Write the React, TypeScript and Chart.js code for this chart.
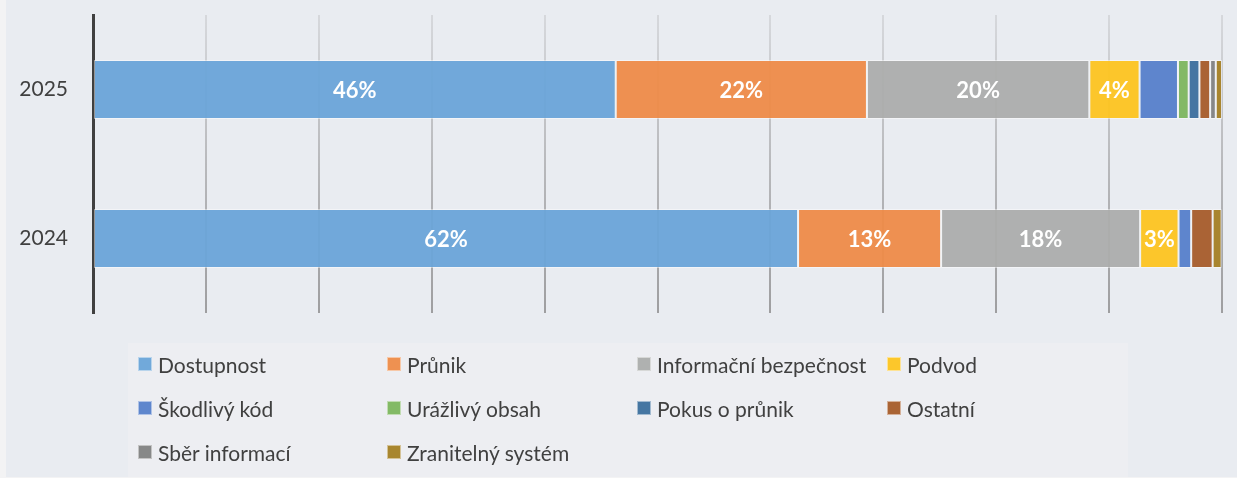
import React, { useEffect, useRef } from "react";
import { Chart, registerables } from "chart.js";

Chart.register(...registerables);

const years = ["2025", "2024"];
const seriesNames = [
  "Dostupnost",
  "Průnik",
  "Informační bezpečnost",
  "Podvod",
  "Škodlivý kód",
  "Urážlivý obsah",
  "Pokus o průnik",
  "Ostatní",
  "Sběr informací",
  "Zranitelný systém",
];
const seriesColors = [
  "rgba(106,164,216,0.95)",
  "rgba(238,139,72,0.95)",
  "rgba(172,173,172,0.95)",
  "rgba(253,196,32,0.95)",
  "rgba(86,127,202,0.95)",
  "rgba(125,182,94,0.95)",
  "rgba(60,111,157,0.95)",
  "rgba(166,92,42,0.95)",
  "rgba(130,130,130,0.95)",
  "rgba(164,128,36,0.95)",
];
// values in % per series: [2025, 2024]
const dostupnost = [46.3, 62.45];
const prunik = [22.25, 12.67];
const infoBezpecnost = [19.7, 17.63];
const podvod = [4.45, 3.4];
const skodlivyKod = [3.4, 1.12];
const urazlivyObsah = [0.95, null];
const pokusOPrunik = [0.95, null];
const ostatni = [0.95, 1.9];
const sberInformaci = [0.5, null];
const zranitelnySystem = [0.55, 0.8];
const seriesValues = [
  dostupnost,
  prunik,
  infoBezpecnost,
  podvod,
  skodlivyKod,
  urazlivyObsah,
  pokusOPrunik,
  ostatni,
  sberInformaci,
  zranitelnySystem,
];
const labeledSeries = 4;
const xTicks = [0, 10, 20, 30, 40, 50, 60, 70, 80, 90, 100];

const FONT = "Lato, 'Noto Sans', sans-serif";

const labelPlugin = {
  id: "segLabels",
  afterDatasetsDraw(chart: any) {
    const ctx = chart.ctx;
    ctx.save();
    ctx.fillStyle = "#ffffff";
    ctx.font = `bold 22px ${FONT}`;
    ctx.textAlign = "center";
    ctx.textBaseline = "middle";
    for (let d = 0; d < labeledSeries; d++) {
      const meta = chart.getDatasetMeta(d);
      meta.data.forEach((el: any, i: number) => {
        const v = chart.data.datasets[d].data[i];
        if (v == null) return;
        const p = el.getCenterPoint();
        ctx.fillText(`${Math.round(v)}%`, p.x, p.y + 1);
      });
    }
    ctx.restore();
  },
};

export default function App() {
  const ref = useRef<HTMLCanvasElement>(null);
  useEffect(() => {
    document.body.style.margin = "0";
    const chart = new Chart(ref.current!, {
      type: "bar",
      data: {
        labels: years,
        datasets: seriesNames.map((name, i) => ({
          label: name,
          data: seriesValues[i] as any,
          backgroundColor: seriesColors[i],
          borderColor: "rgba(255,255,255,0.45)",
          borderWidth: 1,
          borderSkipped: false,
          categoryPercentage: 1,
          barPercentage: 0.396,
        })),
      },
      options: {
        indexAxis: "y",
        animation: false,
        responsive: false,
        maintainAspectRatio: false,
        layout: { padding: { left: 0, right: 15, top: 15, bottom: 163 } },
        plugins: { legend: { display: false }, tooltip: { enabled: false } },
        scales: {
          x: {
            stacked: true,
            min: 0,
            max: 100,
            afterBuildTicks: (s: any) => {
              s.ticks = xTicks.map((v) => ({ value: v }));
            },
            ticks: { display: false },
            border: { display: false },
            grid: {
              drawTicks: false,
              tickLength: 0,
              lineWidth: 2,
              color: (c: any) => {
                const ch = c.chart;
                const a = ch.chartArea;
                if (!a) return "#b8b8b8";
                const g = ch.ctx.createLinearGradient(0, a.top, 0, a.bottom);
                g.addColorStop(0, "rgba(214,216,220,1)");
                g.addColorStop(0.5, "rgba(184,185,188,1)");
                g.addColorStop(1, "rgba(158,158,160,1)");
                return g;
              },
            },
            afterFit: (s: any) => {
              s.height = 0;
              s.paddingLeft = 0;
              s.paddingRight = 0;
              s.paddingTop = 0;
              s.paddingBottom = 0;
            },
          },
          y: {
            stacked: true,
            grid: { display: false, drawTicks: false, tickLength: 0 },
            border: { display: true, color: "#404040", width: 3 },
            ticks: {
              color: "#404040",
              padding: 25,
              font: { family: FONT, size: 21 },
            },
            afterFit: (s: any) => {
              s.width = 87;
              s.paddingTop = 0;
              s.paddingBottom = 0;
              s.paddingLeft = 0;
              s.paddingRight = 0;
            },
          },
        },
      },
      plugins: [labelPlugin],
    });
    return () => chart.destroy();
  }, []);

  const colX = [138, 387, 637, 887];
  const rowY = [359, 403, 447];

  return (
    <div
      style={{
        position: "absolute",
        left: 0,
        top: 0,
        width: 1237,
        height: 478,
        background: "#f3f3f4",
        overflow: "hidden",
      }}
    >
      <div
        style={{
          position: "absolute",
          left: 6,
          top: 0,
          width: 1231,
          height: 477,
          background: "#e9ecf1",
        }}
      >
        <div
          style={{
            position: "absolute",
            left: 122,
            top: 343,
            width: 1000,
            height: 134,
            background: "#edeef2",
          }}
        />
        <canvas
          ref={ref}
          width={1231}
          height={476}
          style={{ position: "absolute", left: 0, top: 0, width: 1231, height: 476 }}
        />
        {seriesNames.map((name, i) => {
          const col = i % 4;
          const row = Math.floor(i / 4);
          return (
            <div
              key={name}
              style={{
                position: "absolute",
                left: colX[col] - 6,
                top: rowY[row] - 12,
                height: 34,
                display: "flex",
                alignItems: "center",
                whiteSpace: "nowrap",
                fontFamily: FONT,
                fontSize: 21,
                color: "#404040",
              }}
            >
              <span
                style={{
                  display: "inline-block",
                  width: 12,
                  height: 12,
                  background: seriesColors[i],
                  border: "1px solid rgba(255,255,255,0.5)",
                  marginRight: 6,
                  boxSizing: "content-box",
                }}
              />
              <span>{name}</span>
            </div>
          );
        })}
      </div>
    </div>
  );
}
